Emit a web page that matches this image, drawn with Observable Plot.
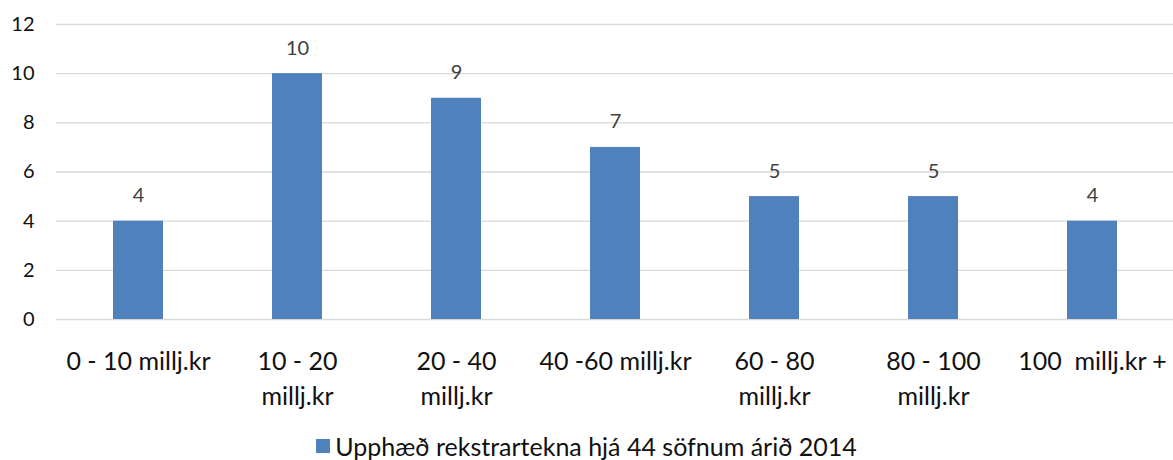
<!DOCTYPE html>
<html><head><meta charset="utf-8">
<script src="https://cdn.jsdelivr.net/npm/d3@7"></script>
<script src="https://cdn.jsdelivr.net/npm/@observablehq/plot@0.6"></script>
<style>
body{margin:0;background:#fff;font-family:Lato,sans-serif;}
#legend{display:flex;justify-content:center;align-items:center;height:35px;padding-top:6px;box-sizing:border-box;font-size:25px;color:#111;}
#legend .sw{width:14px;height:14px;background:#4F81BD;margin-right:5px;display:inline-block}
</style></head><body>
<div id="chart"></div>
<div id="legend"><span class="sw"></span><span id="legendText"></span></div>
<script>
const categories = ["0-10", "10-20", "20-40", "40-60", "60-80", "80-100", "100+"];
const counts = [4, 10, 9, 7, 5, 5, 4];
const tickLabels = [
  "0 - 10 millj.kr",
  "10 - 20\nmillj.kr",
  "20 - 40\nmillj.kr",
  "40 -60 millj.kr",
  "60 - 80\nmillj.kr",
  "80 - 100\nmillj.kr",
  "100  millj.kr +"
];
const yTicks = [0, 2, 4, 6, 8, 10, 12];
const seriesName = "Upphæð rekstrartekna hjá 44 söfnum árið 2014";

const data = categories.map((c, i) => ({category: c, count: counts[i]}));
const labelOf = new Map(categories.map((c, i) => [c, tickLabels[i].replace(/ /g, "\u00A0")]));

const chart = Plot.plot({
  width: 1173, height: 425,
  marginLeft: 56, marginRight: 0, marginTop: 24, marginBottom: 106,
  style: {fontFamily: "Lato, sans-serif", background: "#fff"},
  x: {type: "band", domain: categories, paddingInner: 0.6875, paddingOuter: 0.34375},
  y: {domain: [0, 12]},
  marks: [
    Plot.gridY(yTicks, {stroke: "#d9d9d9", strokeOpacity: 1, strokeWidth: 1.4}),
    Plot.barY(data, {x: "category", y: "count", fill: "#4F81BD"}),
    Plot.text(data, {x: "category", y: "count", text: d => String(d.count), lineAnchor: "bottom", dy: -19, fontSize: 20, fill: "#404040"}),
    Plot.axisY({ticks: yTicks, tickSize: 0, tickPadding: 22, fontSize: 20, color: "#111", label: null}),
    Plot.axisX({tickSize: 0, tickPadding: 26, fontSize: 25, lineHeight: 1.4, color: "#111", label: null, tickFormat: c => labelOf.get(c)})
  ]
});
document.getElementById("chart").appendChild(chart);
document.getElementById("legendText").textContent = seriesName;
</script>
</body></html>
